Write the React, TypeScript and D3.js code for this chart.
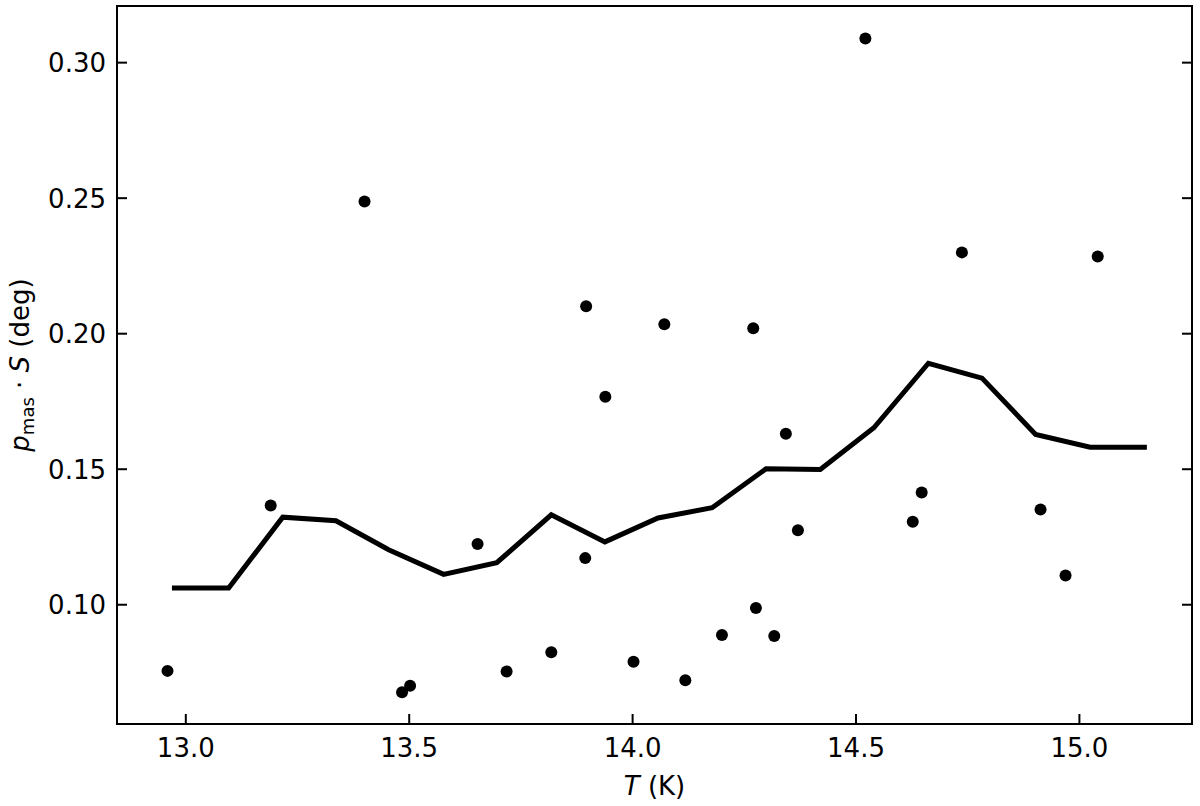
import React from 'react';
import * as d3 from 'd3';

// scatter points: temperature (K) and p_mas * S (deg)
const pointT = [
  12.959, 13.190, 13.400, 13.484, 13.502, 13.653, 13.718, 13.818, 13.896, 13.894,
  13.939, 14.002, 14.071, 14.118, 14.200, 14.270, 14.276, 14.317, 14.343, 14.370,
  14.521, 14.627, 14.647, 14.737, 14.913, 14.969, 15.041,
];
const pointP = [
  0.0756, 0.1366, 0.2488, 0.0677, 0.0701, 0.1224, 0.0754, 0.0825, 0.2101, 0.1172,
  0.1767, 0.0790, 0.2035, 0.0721, 0.0888, 0.2020, 0.0988, 0.0885, 0.1631, 0.1275,
  0.3089, 0.1306, 0.1414, 0.2300, 0.1351, 0.1108, 0.2285,
];

// running mean curve
const lineT = [
  12.969, 13.096, 13.217, 13.336, 13.454, 13.577, 13.696, 13.818, 13.938, 14.057,
  14.178, 14.299, 14.420, 14.540, 14.662, 14.782, 14.902, 15.024, 15.151,
];
const lineP = [
  0.1062, 0.1062, 0.1323, 0.1310, 0.1203, 0.1112, 0.1155, 0.1332, 0.1232, 0.1320,
  0.1358, 0.1502, 0.1499, 0.1653, 0.1891, 0.1836, 0.1628, 0.1581, 0.1581,
];

const xTicks = [13.0, 13.5, 14.0, 14.5, 15.0];
const yTicks = [0.10, 0.15, 0.20, 0.25, 0.30];

const W = 1200;
const H = 806;
const left = 117, right = 1192, top = 6, bottom = 724;
const font = 'DejaVu Sans, sans-serif';

export default function App() {
  const x = d3.scaleLinear().domain([12.846, 15.252]).range([left, right]);
  const y = d3.scaleLinear().domain([0.0560, 0.3209]).range([bottom, top]);

  const line = d3.line<number>()
    .x((d, i) => x(lineT[i]))
    .y(d => y(d));

  return (
    <svg width={W} height={H} style={{ position: 'absolute', left: 0, top: 0, background: '#fff' }}
      fontFamily={font}>
      <rect x={0} y={0} width={W} height={H} fill="#fff" />

      {/* scatter */}
      {pointP.map((p, i) => (
        <circle key={i} cx={x(pointT[i])} cy={y(p)} r={6} fill="#000" />
      ))}

      {/* curve */}
      <path d={line(lineP) || ''} fill="none" stroke="#000" strokeWidth={5} strokeLinejoin="miter" />

      {/* frame */}
      <rect x={left} y={top} width={right - left} height={bottom - top}
        fill="none" stroke="#000" strokeWidth={2} />

      {/* x ticks */}
      {xTicks.map(t => (
        <g key={t}>
          <line x1={x(t)} x2={x(t)} y1={bottom} y2={bottom - 10} stroke="#000" strokeWidth={2} />
          <text x={x(t)} y={757} fontSize={26} textAnchor="middle">{t.toFixed(1)}</text>
        </g>
      ))}

      {/* y ticks, left and right */}
      {yTicks.map(t => (
        <g key={t}>
          <line x1={left} x2={left + 10} y1={y(t)} y2={y(t)} stroke="#000" strokeWidth={2} />
          <line x1={right} x2={right - 10} y1={y(t)} y2={y(t)} stroke="#000" strokeWidth={2} />
          <text x={106} y={y(t)} dy="0.36em" fontSize={26} textAnchor="end">{t.toFixed(2)}</text>
        </g>
      ))}

      {/* axis labels */}
      <text x={(left + right) / 2} y={795} fontSize={26} textAnchor="middle">
        <tspan fontStyle="italic">T</tspan> (K)
      </text>
      <text transform={`translate(29,${(top + bottom) / 2}) rotate(-90)`} fontSize={26} textAnchor="middle">
        <tspan fontStyle="italic">p</tspan>
        <tspan fontSize={18} dy={5}>mas</tspan>
        <tspan dy={-5}> · </tspan>
        <tspan fontStyle="italic">S</tspan>
        <tspan> (deg)</tspan>
      </text>
    </svg>
  );
}
